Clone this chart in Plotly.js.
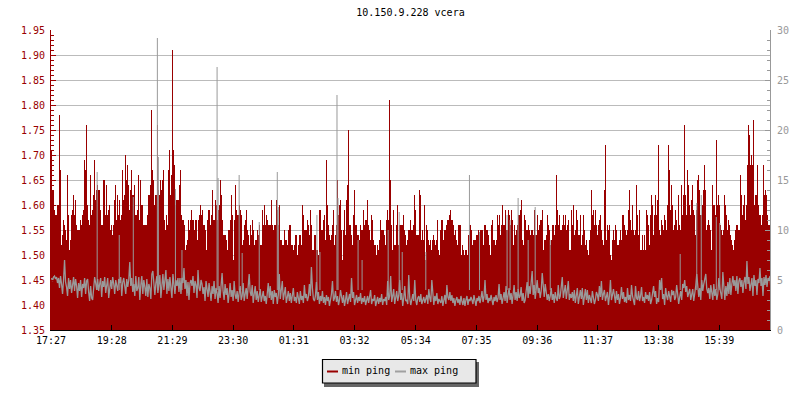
<!DOCTYPE html>
<html><head><meta charset="utf-8">
<script src="https://cdn.plot.ly/plotly-3.0.1.min.js"></script>
<style>html,body{margin:0;padding:0;background:#fff}</style></head>
<body><div id="chart" style="width:800px;height:400px"></div>
<script>
const chartTitle = "10.150.9.228 vcera";
const tickMinutes = [0,121,242,363,484,605,727,848,969,1090,1211,1332];
const tickLabels = ["17:27","19:28","21:29","23:30","01:31","03:32","05:34","07:35","09:36","11:37","13:38","15:39"];
const minPingA = [1.71,1.63,1.63,1.59,1.58,1.58,1.60,1.60,1.78,1.67,1.52,1.54,1.57,1.56,1.55,1.53,1.66,1.58,1.51,1.53,1.58,1.59,1.62,1.58,1.61,1.56,1.55,1.55,1.55,1.57,1.56,1.58,1.59,1.69,1.67,1.76,1.60,1.57,1.56,1.66,1.58,1.59,1.62,1.69,1.61,1.63,1.64,1.63,1.63,1.59,1.56,1.56,1.65,1.65,1.58,1.64,1.58,1.59,1.60,1.55,1.56,1.54,1.56,1.61,1.64,1.57,1.62,1.58,1.61,1.57,1.58,1.67,1.61,1.62,1.70,1.65,1.68,1.64,1.59,1.63,1.67,1.62,1.62,1.64,1.58,1.58,1.59,1.66,1.57,1.65,1.60,1.60,1.56,1.56,1.56,1.56,1.58,1.62,1.62,1.64,1.79,1.67,1.65,1.60,1.62,1.62,1.76,1.63,1.62,1.65,1.63,1.65,1.67,1.57,1.55,1.58,1.56,1.67,1.71,1.62,1.66,1.91,1.71,1.68,1.60,1.61,1.61,1.61];
const minPingB = [1.64,1.67,1.58,1.57,1.57,1.56,1.51,1.52,1.53,1.57,1.55,1.57,1.59,1.57,1.55,1.57,1.57,1.53,1.57,1.58,1.60,1.58,1.59,1.56,1.56,1.55,1.51,1.57,1.59,1.59,1.56,1.58,1.63,1.57,1.57,1.61,1.60,1.57,1.59,1.60,1.65,1.62,1.57,1.54,1.54,1.54,1.53,1.51,1.55,1.55,1.57,1.62,1.58,1.49,1.57,1.64,1.59,1.58,1.58,1.60,1.59,1.58,1.52,1.53,1.56,1.57,1.59,1.55,1.54,1.52,1.56,1.54,1.57,1.55,1.52,1.53,1.53,1.55,1.54,1.56,1.52,1.52,1.59,1.56,1.60,1.56,1.58,1.57,1.56,1.56,1.56,1.61,1.56,1.55,1.56,1.56,1.61,1.59,1.56,1.60,1.53,1.53,1.52,1.52,1.55,1.53,1.53,1.52,1.55,1.56,1.56,1.52,1.52,1.51,1.52,1.54,1.54,1.50,1.52,1.54,1.54,1.52,1.60,1.58,1.55,1.55,1.55,1.57,1.56,1.54];
const minPingC = [1.59,1.56,1.51,1.51,1.54,1.54,1.51,1.51,1.50,1.59,1.59,1.55,1.55,1.57,1.58,1.53,1.69,1.60,1.56,1.54,1.53,1.54,1.56,1.59,1.52,1.54,1.56,1.65,1.58,1.60,1.61,1.55,1.49,1.55,1.59,1.54,1.61,1.64,1.75,1.56,1.56,1.54,1.52,1.58,1.63,1.56,1.56,1.54,1.54,1.53,1.56,1.55,1.55,1.59,1.56,1.57,1.57,1.61,1.56,1.55,1.53,1.58,1.57,1.53,1.52,1.52,1.50,1.52,1.51,1.53,1.57,1.55,1.55,1.55,1.54,1.52,1.57,1.59,1.57,1.81,1.65,1.56,1.51,1.59,1.52,1.52,1.56,1.60,1.52,1.56,1.56,1.56,1.56,1.58,1.55,1.54,1.52,1.53,1.55,1.55,1.57,1.55,1.55,1.56,1.62,1.59,1.54,1.54,1.54,1.63,1.62,1.53,1.55,1.53,1.60,1.49,1.56,1.55,1.53,1.52,1.53,1.51,1.53,1.54,1.53,1.52,1.53,1.57,1.51,1.50];
const minPingD = [1.55,1.57,1.57,1.53,1.55,1.55,1.56,1.57,1.57,1.58,1.59,1.57,1.57,1.56,1.54,1.55,1.53,1.52,1.56,1.56,1.56,1.50,1.52,1.51,1.50,1.51,1.51,1.50,1.54,1.56,1.56,1.55,1.52,1.53,1.53,1.53,1.54,1.54,1.55,1.54,1.55,1.55,1.52,1.56,1.56,1.55,1.55,1.54,1.52,1.50,1.56,1.57,1.53,1.53,1.52,1.53,1.58,1.56,1.58,1.54,1.56,1.60,1.56,1.56,1.59,1.55,1.55,1.59,1.58,1.56,1.59,1.57,1.52,1.56,1.54,1.55,1.56,1.58,1.58,1.59,1.61,1.53,1.52,1.58,1.57,1.55,1.55,1.56,1.55,1.54,1.55,1.55,1.54,1.59,1.54,1.54,1.58,1.55,1.56,1.57,1.57,1.59,1.51,1.53,1.53,1.54,1.58,1.56,1.55,1.52,1.53,1.56,1.56,1.54,1.56,1.66,1.59,1.56,1.58,1.55,1.55,1.56,1.58,1.56,1.58,1.55,1.56,1.57,1.51,1.51];
const minPingE = [1.59,1.56,1.60,1.54,1.55,1.59,1.57,1.54,1.54,1.58,1.52,1.54,1.58,1.55,1.52,1.53,1.51,1.50,1.53,1.55,1.63,1.58,1.59,1.56,1.59,1.56,1.54,1.56,1.57,1.58,1.55,1.53,1.52,1.63,1.72,1.53,1.56,1.55,1.56,1.50,1.49,1.53,1.55,1.53,1.56,1.55,1.52,1.52,1.53,1.55,1.53,1.58,1.58,1.56,1.55,1.54,1.55,1.59,1.63,1.57,1.55,1.60,1.55,1.54,1.55,1.64,1.58,1.54,1.59,1.51,1.51,1.54,1.51,1.54,1.51,1.59,1.58,1.56,1.52,1.58,1.62,1.60,1.54,1.58,1.62,1.58,1.61,1.72,1.55,1.54,1.57,1.56,1.55,1.58,1.57,1.55,1.60,1.72,1.67,1.59,1.64,1.60,1.55,1.56,1.59,1.57,1.55,1.62,1.56,1.55,1.64,1.58,1.62,1.76,1.62,1.58,1.67,1.64,1.60,1.58,1.61,1.64,1.59,1.58,1.54,1.59,1.65,1.66,1.63,1.58];
const minPingF = [1.58,1.60,1.63,1.68,1.63,1.55,1.56,1.57,1.56,1.55,1.51,1.64,1.60,1.60,1.58,1.73,1.60,1.62,1.60,1.56,1.55,1.54,1.55,1.62,1.60,1.58,1.55,1.57,1.56,1.54,1.53,1.52,1.51,1.53,1.55,1.56,1.56,1.55,1.55,1.66,1.62,1.58,1.60,1.62,1.57,1.60,1.68,1.76,1.74,1.68,1.70,1.68,1.77,1.60,1.62,1.62,1.68,1.60,1.58,1.58,1.56,1.58,1.68,1.62,1.63,1.62,1.58,1.56,1.70,1.80,1.63,1.63];
const maxPingA = [5.2,4.9,5.3,5.4,5.1,5.3,4.7,5.2,4.2,5.4,4.6,3.6,5.0,7.0,4.8,4.3,3.4,5.2,4.1,5.0,3.7,4.9,5.3,3.9,5.1,4.4,3.2,4.7,3.9,5.0,3.3,4.6,4.2,5.2,3.6,4.9,5.1,3.8,2.9,4.4,3.2,3.0,4.6,5.3,4.7,4.0,5.1,3.9,4.6,5.2,3.3,4.9,4.3,5.3,3.7,4.8,5.2,3.2,4.4,5.0,4.1,5.3,4.6,3.6,5.0,4.2,3.9,5.1,4.7,5.3,3.4,4.8,5.2,4.4,3.6,5.1,4.3,5.0,6.8,4.4,5.2,3.8,4.6,3.4,5.4,3.9,4.2,5.3,3.0,4.5,5.4,3.6,5.0,4.3,3.4,5.1,3.3,4.6,4.2,3.1,5.6,5.9,4.3,3.5,4.7,5.4,3.7,4.4,5.5,3.2,4.8,5.6,4.0,4.9,6.0,3.6,5.1,3.9,5.3,4.2,3.2,5.6,4.7,3.6,5.0,4.4,5.2,3.8];
const maxPingB = [5.2,3.6,5.2,4.7,6.2,4.1,5.0,3.4,4.8,3.0,4.7,5.0,4.4,5.4,3.7,4.9,4.5,3.2,6.0,4.2,3.9,5.0,4.6,3.6,4.3,2.9,4.9,4.1,3.3,4.7,3.8,2.9,4.4,3.6,4.9,3.1,4.2,3.7,2.7,4.4,3.2,4.8,5.7,3.9,3.0,4.6,3.5,4.2,2.7,3.6,4.7,3.3,4.0,2.9,4.9,3.5,3.1,3.9,2.8,3.7,4.4,3.0,3.4,4.7,2.9,3.6,4.2,3.1,4.9,5.6,3.8,3.4,4.5,2.7,3.6,4.4,3.0,3.9,2.8,3.3,4.1,2.8,3.3,3.9,2.9,3.4,2.6,3.6,4.7,3.2,4.4,3.0,3.9,2.6,4.0,3.3,3.7,2.6,3.5,5.6,3.1,4.0,4.9,3.0,3.6,4.3,2.7,3.4,3.9,2.9,3.7,2.7,3.5,4.2,2.9,3.3,2.7,3.8,3.2,2.6,3.9,3.0,3.4,2.7,4.5,3.2,3.6,2.9,3.3,4.6];
const maxPingC = [3.4,6.3,4.2,3.1,2.9,3.4,4.8,3.0,3.8,2.6,3.4,2.9,3.9,2.7,3.3,2.5,3.5,2.9,3.3,2.4,3.0,3.6,4.9,2.9,3.2,3.9,2.8,3.4,2.5,3.0,4.0,3.2,2.7,3.5,2.4,3.0,3.8,2.6,3.3,3.6,2.8,5.2,3.2,3.8,2.5,3.1,3.5,2.7,3.3,2.9,3.7,2.6,3.2,2.8,3.4,2.5,3.0,3.4,2.7,3.2,4.0,2.6,3.1,2.9,3.5,2.4,3.0,3.3,2.6,3.2,2.8,3.6,2.5,3.1,2.9,3.3,2.5,4.9,3.0,3.4,5.4,2.8,3.4,4.1,2.6,3.1,3.9,2.9,3.4,5.0,3.0,3.7,2.4,3.2,4.4,2.9,3.0,2.6,5.5,3.2,2.5,3.0,3.6,2.9,5.0,3.0,2.5,3.2,3.4,2.8,3.6,2.6,3.1,3.3,2.7,3.0,3.5,2.6,4.1,3.2,2.8,5.0,3.0,2.5,3.4,2.9,3.7,2.6,3.1,2.8];
const maxPingD = [2.7,3.4,2.4,3.0,3.5,2.6,4.5,3.3,3.0,3.8,2.9,3.5,2.7,3.2,2.4,3.0,3.3,2.7,3.1,2.5,3.4,2.9,2.5,3.2,2.4,3.0,3.4,2.5,3.1,2.9,3.3,3.0,2.6,3.5,3.1,2.4,3.2,2.9,3.4,2.7,3.2,3.9,2.8,3.3,5.0,3.0,3.6,2.7,3.2,2.9,3.5,3.0,2.5,3.3,2.9,3.5,2.8,3.2,4.6,3.0,3.6,2.6,3.4,3.8,2.9,4.4,2.7,3.5,4.2,3.0,3.7,2.6,3.4,4.5,3.0,3.8,2.9,4.1,3.2,3.4,4.3,2.9,3.7,2.7,3.0,3.8,4.8,3.2,4.4,3.6,4.9,5.9,3.5,4.5,3.1,4.0,5.0,3.7,4.2,3.2,3.9,5.7,4.3,3.3,4.6,3.9,3.0,3.6,2.9,3.4,4.2,3.0,3.6,2.7,3.8,3.2,2.9,4.5,3.1,3.4,4.2,5.3,3.2,3.8,4.5,3.1,3.8,4.9,3.0,3.6];
const maxPingE = [3.2,3.8,2.9,4.0,2.7,3.6,4.2,2.6,3.4,4.0,3.1,4.2,2.5,3.3,4.1,3.0,4.0,2.7,3.5,3.1,2.7,3.9,3.2,2.6,3.0,3.8,3.5,2.9,4.4,3.3,4.9,3.0,3.6,4.0,2.9,3.3,3.8,2.5,3.4,5.0,3.0,3.5,4.1,3.4,2.7,3.9,3.0,3.6,2.6,3.2,4.3,3.1,3.8,2.8,3.3,2.7,4.2,3.0,3.5,2.9,4.5,3.4,3.0,2.5,4.4,3.2,3.0,3.9,2.9,3.4,4.3,2.9,3.3,2.7,3.8,3.1,3.5,2.9,3.8,2.6,3.0,3.7,4.4,3.3,3.9,2.6,3.2,2.8,5.0,4.0,5.2,3.1,3.6,2.5,4.2,3.4,3.0,3.9,3.2,2.8,4.0,3.5,3.9,3.0,3.3,4.5,3.6,2.6,3.3,3.9,3.0,4.6,4.2,5.0,3.8,4.4,3.3,3.9,4.1,3.0,3.6,4.1,2.9,3.5,4.4,5.6,4.0,3.3,4.2,3.0];
const maxPingF = [5.0,3.9,4.6,5.3,5.6,4.1,3.7,4.2,3.1,4.5,3.8,3.0,4.6,3.4,4.1,3.0,3.6,5.2,4.2,3.4,3.1,5.8,3.7,3.0,4.4,3.4,4.8,3.6,5.2,3.5,4.6,5.4,4.4,5.0,3.9,5.4,3.6,4.9,5.2,4.3,5.0,3.7,4.8,5.3,4.1,6.9,4.6,5.3,3.9,4.7,5.2,3.4,5.5,4.4,5.0,3.5,5.1,4.7,6.2,4.4,5.2,3.4,5.3,4.5,5.5,4.3,5.2,5.0,5.4,3.9,5.0,4.4];
const maxSpikeMinutes = [92,136,164,212,214,248,261,331,333,375,381,415,451,453,530,536,570,572,612,620,672,694,700,747,834,854,909,915,931,951,965,995,1254,1287,1296,1326,1333];
const maxSpikeValues = [15.8,9.5,13.3,29.2,17.3,14.1,8,26.3,15.2,15.5,7.7,10.8,15.8,12.3,11.5,7.8,23.5,13.2,9,7,10,11.8,7.8,7.8,15.5,9.8,11.5,11,13.2,9,12.3,9,7.6,12.7,13.5,11.3,10.7];
const seriesNames = ["min ping","max ping"];
const sampleMinutes = 2;

const RED = "#990000", GREY = "#999999", FONT = "DejaVu Sans Mono, Liberation Mono, monospace";
const minPing = [].concat(minPingA,minPingB,minPingC,minPingD,minPingE,minPingF);
const maxPing = [].concat(maxPingA,maxPingB,maxPingC,maxPingD,maxPingE,maxPingF);
const minX = minPing.map((_,i)=>i*sampleMinutes+1);
const maxX = maxPing.map((_,i)=>i*sampleMinutes+1);
const spikeX = [], spikeY = [];
maxSpikeMinutes.forEach((m,i)=>{ spikeX.push(m,m,null); spikeY.push(4,maxSpikeValues[i],null); });

const traces = [
 {type:"bar",name:seriesNames[0],x:minX,y:minPing,width:sampleMinutes,marker:{color:RED,line:{width:0}},yaxis:"y",showlegend:false,hoverinfo:"skip"},
 {type:"scatter",mode:"lines",name:seriesNames[1],x:maxX,y:maxPing,yaxis:"y2",line:{color:GREY,width:1.3,shape:"linear"},showlegend:false,hoverinfo:"skip"},
 {type:"scatter",mode:"lines",name:seriesNames[1]+" peaks",x:spikeX,y:spikeY,yaxis:"y2",line:{color:GREY,width:1},showlegend:false,hoverinfo:"skip",connectgaps:false}
];

const L=51,T=30,W=719,H=300;
const px=x=>(x-L)/W, py=y=>(T+H-y)/H;
const rect=(x0,y0,x1,y1,fill,line,lw)=>({type:"rect",xref:"paper",yref:"paper",layer:"above",x0:px(x0),x1:px(x1),y0:py(y0),y1:py(y1),fillcolor:fill,line:{color:line,width:lw}});
const seg=(x0,x1,y,c)=>({type:"line",xref:"paper",yref:"paper",layer:"above",x0:px(x0),x1:px(x1),y0:py(y),y1:py(y),line:{color:c,width:2}});
const shapes=[rect(324,362,479,387,"#666666","#666666",0),rect(322.5,359.5,476,383,"#e8e8e8","#000000",1.2),seg(327,338,371.5,RED),seg(395,406,371.5,"#a0a0a0")];
const leg=(x,t)=>({xref:"paper",yref:"paper",x:px(x),y:py(370.5),text:t,showarrow:false,xanchor:"left",yanchor:"middle",font:{family:FONT,size:10,color:"#000"},borderpad:0});

const layout={
 width:800,height:400,autosize:false,showlegend:false,
 paper_bgcolor:"#fff",plot_bgcolor:"#fff",bargap:0,
 margin:{l:L,r:800-L-W,t:T,b:400-T-H,pad:0},
 font:{family:FONT,size:10},
 title:{text:chartTitle,font:{family:FONT,size:10,color:"#000"},xref:"paper",x:0.5,xanchor:"center",yref:"container",y:0.968,yanchor:"middle"},
 xaxis:{range:[0,1433],tickvals:tickMinutes,ticktext:tickLabels,tickmode:"array",ticks:"inside",ticklen:5,tickwidth:1,tickcolor:"#000",showgrid:false,zeroline:false,showline:true,linecolor:"#000",linewidth:1,tickfont:{family:FONT,size:10,color:"#000"},ticklabelstandoff:1},
 yaxis:{range:[1.35,1.95],dtick:0.05,tick0:1.35,tickformat:".2f",ticks:"inside",ticklen:5,tickwidth:1,tickcolor:RED,showgrid:true,gridcolor:"#bbbbbb",gridwidth:1,zeroline:false,showline:true,linecolor:RED,linewidth:1,tickfont:{family:FONT,size:10,color:RED},ticklabelstandoff:3,
   minor:{dtick:0.01,tick0:1.35,ticks:"inside",ticklen:3,tickcolor:RED,tickwidth:1,showgrid:false}},
 yaxis2:{range:[0,30],overlaying:"y",side:"right",dtick:5,tick0:0,ticks:"inside",ticklen:5,tickwidth:1,tickcolor:GREY,showgrid:false,zeroline:false,showline:true,linecolor:GREY,linewidth:1,tickfont:{family:FONT,size:10,color:GREY},ticklabelstandoff:4,
   minor:{dtick:1,tick0:0,ticks:"inside",ticklen:3,tickcolor:GREY,tickwidth:1,showgrid:false}},
 shapes:shapes,
 annotations:[leg(341,seriesNames[0]),leg(409,seriesNames[1])]
};
Plotly.newPlot("chart",traces,layout,{displayModeBar:false,staticPlot:true});
</script></body></html>
